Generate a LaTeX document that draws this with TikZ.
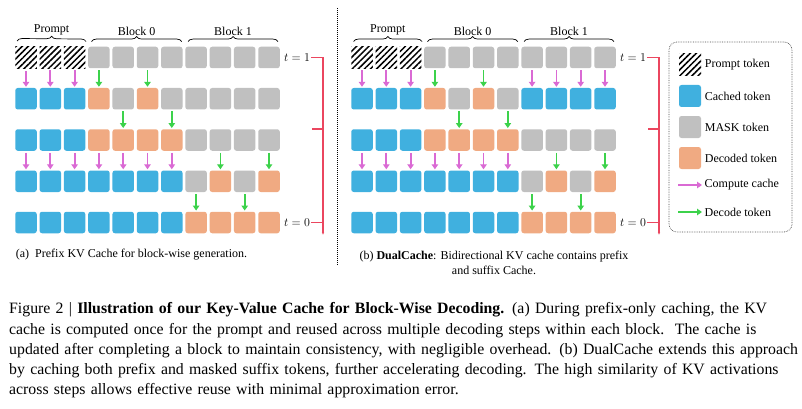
\documentclass[tikz,border=0pt]{standalone}
\usepackage{fontspec}
\setmainfont{Liberation Serif}
\usetikzlibrary{positioning,patterns.meta,decorations.pathreplacing,arrows.meta}

\definecolor{cachedblue}{RGB}{64,176,223}
\definecolor{maskgrey}{RGB}{192,192,192}
\definecolor{decodedorange}{RGB}{240,170,130}
\definecolor{computepink}{RGB}{218,106,212}
\definecolor{decodegreen}{RGB}{60,210,75}
\definecolor{tred}{RGB}{235,70,95}

\tikzset{
	tok/.style={minimum width=21.5pt,minimum height=21.5pt,inner sep=0pt,rounded corners=2.5pt},
	tokP/.style={tok,rounded corners=0pt,pattern={Lines[angle=45,distance=4.3pt,line width=1.5pt]}},
	tokC/.style={tok,fill=cachedblue},
	tokM/.style={tok,fill=maskgrey},
	tokD/.style={tok,fill=decodedorange},
	computearrow/.style={draw=computepink,line width=1.8pt,-{Triangle[width=6.5pt,length=5pt]},shorten <=1.8pt,shorten >=1pt},
	decodearrow/.style={draw=decodegreen,line width=1.8pt,-{Triangle[width=6.5pt,length=5pt]},shorten <=1.8pt,shorten >=1pt},
	small/.style={font=\fontsize{12}{15.5}\selectfont,inner sep=1pt},
	tline/.style={draw=tred,line width=1.1pt},
	blockbrace/.style={decorate,decoration={brace,amplitude=5pt},line width=0.7pt}
}

\begin{document}
\begin{tikzpicture}[x=1pt,y=-1pt]
	\useasboundingbox[fill=white] (0,0) rectangle (802,409);

	% left panel: prefix cache
	\foreach \row [count=\r] in {{P,P,P,M,M,M,M,M,M,M,M},{C,C,C,D,M,D,M,M,M,M,M},{C,C,C,D,D,D,D,M,M,M,M},{C,C,C,C,C,C,C,M,D,M,D},{C,C,C,C,C,C,C,D,D,D,D}}
		\foreach \s [count=\c] in \row
			\node[tok\s] (L\r-\c) at ({26+(\c-1)*24.3},{57.5+(\r-1)*41.25}) {};
	\foreach \r/\c/\a in {1/1/computearrow,1/2/computearrow,1/3/computearrow,1/4/decodearrow,1/6/decodearrow,
		2/5/decodearrow,2/7/decodearrow,
		3/1/computearrow,3/2/computearrow,3/3/computearrow,3/4/computearrow,3/5/computearrow,3/6/computearrow,3/7/computearrow,3/9/decodearrow,3/11/decodearrow,
		4/8/decodearrow,4/10/decodearrow}
	{
		\pgfmathtruncatemacro{\n}{\r+1}
		\draw[\a] (L\r-\c.south) -- (L\n-\c.north);
	}

	% right panel: dual cache
	\foreach \row [count=\r] in {{P,P,P,M,M,M,M,M,M,M,M},{C,C,C,D,M,D,M,C,C,C,C},{C,C,C,D,D,D,D,M,M,M,M},{C,C,C,C,C,C,C,M,D,M,D},{C,C,C,C,C,C,C,D,D,D,D}}
		\foreach \s [count=\c] in \row
			\node[tok\s] (R\r-\c) at ({362+(\c-1)*24.3},{57.5+(\r-1)*41.25}) {};
	\foreach \r/\c/\a in {1/1/computearrow,1/2/computearrow,1/3/computearrow,1/4/decodearrow,1/6/decodearrow,
		1/8/computearrow,1/9/computearrow,1/10/computearrow,1/11/computearrow,
		2/5/decodearrow,2/7/decodearrow,
		3/1/computearrow,3/2/computearrow,3/3/computearrow,3/4/computearrow,3/5/computearrow,3/6/computearrow,3/7/computearrow,3/9/decodearrow,3/11/decodearrow,
		4/8/decodearrow,4/10/decodearrow}
	{
		\pgfmathtruncatemacro{\n}{\r+1}
		\draw[\a] (R\r-\c.south) -- (R\n-\c.north);
	}

	% braces over the first row
	\foreach \p in {L,R}
	{
		\draw[blockbrace] ([xshift=2.5pt,yshift=5pt]\p1-1.north west) -- ([xshift=0.5pt,yshift=5pt]\p1-3.north east)
			node[small,midway,above=5pt] (\p prompt) {Prompt};
		\draw[blockbrace] ([xshift=3.5pt,yshift=5pt]\p1-4.north west) -- ([xshift=-1pt,yshift=5pt]\p1-7.north east)
			node[small,midway,above=5pt] (\p block0) {Block 0};
		\draw[blockbrace] ([xshift=3pt,yshift=5pt]\p1-8.north west) -- ([xshift=-2pt,yshift=5pt]\p1-11.north east)
			node[small,midway,above=5pt] (\p block1) {Block 1};
	}

	% time axis
	\node[small,right=3pt of L1-11] (tL1) {$t = 1$};
	\node[small,right=3pt of L5-11] (tL0) {$t = 0$};
	\node[small,right=3pt of R1-11] (tR1) {$t = 1$};
	\node[small,right=3pt of R5-11] (tR0) {$t = 0$};
	\coordinate (bL1) at (323,46);
	\coordinate (bL0) at (323,235);
	\coordinate (bLm) at (312,129);
	\coordinate (bR1) at (659,46);
	\coordinate (bR0) at (659,235);
	\coordinate (bRm) at (648,129);
	\draw[tline,-{Latex[length=3pt,width=2.5pt]}] (tL1.east) -- (tL1.east -| bL1) -- (bL0);
	\draw[tline] (tL0.east) -- (tL0.east -| bL1);
	\draw[tline] (bLm) -- (bLm -| bL1);
	\draw[tline,-{Latex[length=3pt,width=2.5pt]}] (tR1.east) -- (tR1.east -| bR1) -- (bR0);
	\draw[tline] (tR0.east) -- (tR0.east -| bR1);
	\draw[tline] (bRm) -- (bRm -| bR1);

	% separator
	\draw[densely dotted,line width=1pt] (337,8) -- (337,266);

	% sub-captions
	\node[small] (capa) at (131.5,255) {(a)\ \ Prefix KV Cache for block-wise generation.};
	\node[small,align=center] (capb) at (494,263) {(b) \textbf{DualCache}: Bidirectional KV cache contains prefix\\and suffix Cache.};

	% legend
	\node[draw=black!70,densely dotted,line width=0.7pt,rounded corners=8pt,minimum width=123pt,minimum height=190pt] (legend) at (730.5,137) {};
	\node[tokP,minimum size=22pt] (kP) at (690,65) {};
	\node[tokC,minimum size=22pt] (kC) at (690,96) {};
	\node[tokM,minimum size=22pt] (kM) at (690,127) {};
	\node[tokD,minimum size=22pt] (kD) at (690,158) {};
	\coordinate (kA0) at (678,185);
	\coordinate (kA1) at (702,185);
	\coordinate (kB0) at (678,212);
	\coordinate (kB1) at (702,212);
	\draw[computearrow,shorten <=0pt,shorten >=0pt] (kA0) -- (kA1);
	\draw[decodearrow,shorten <=0pt,shorten >=0pt] (kB0) -- (kB1);
	\node[small,right=2.5pt of kP] (lP) {Prompt token};
	\node[small,right=2.5pt of kC] (lC) {Cached token};
	\node[small,right=2.5pt of kM] (lM) {MASK token};
	\node[small,right=2.5pt of kD] (lD) {Decoded token};
	\node[small,right=1.5pt of kA1] (lA) {Compute cache};
	\node[small,right=1.5pt of kB1] (lB) {Decode token};

	% figure caption
	\node[anchor=north west,inner sep=0pt,text width=780pt,align=left,font=\fontsize{15.8}{20.2}\selectfont] (caption) at (9,302.5) {%
		\makebox[780pt][s]{Figure 2 | \textbf{Illustration of our Key-Value Cache for Block-Wise Decoding.} (a) During prefix-only caching, the KV}\\
		\makebox[780pt][s]{cache is computed once for the prompt and reused across multiple decoding steps within each block.\ \ The cache is}\\
		\makebox[780pt][s]{updated after completing a block to maintain consistency, with negligible overhead. (b) DualCache extends this approach}\\
		\makebox[780pt][s]{by caching both prefix and masked suffix tokens, further accelerating decoding. The high similarity of KV activations}\\
		across steps allows effective reuse with minimal approximation error.};
\end{tikzpicture}
\end{document}
